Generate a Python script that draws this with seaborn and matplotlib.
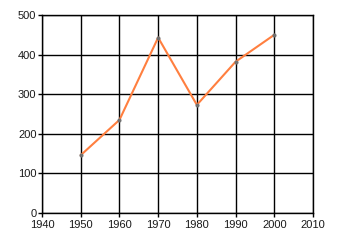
import matplotlib
matplotlib.use("Agg")
import matplotlib.pyplot as plt
import seaborn as sns
import pandas as pd

years = [1950, 1960, 1970, 1980, 1990, 2000]
values = [146, 235, 443, 273, 382, 450]
x_ticks = [1940, 1950, 1960, 1970, 1980, 1990, 2000, 2010]
y_ticks = [0, 100, 200, 300, 400, 500]

sns.set_style("white")
plt.rcParams['font.family'] = ['Liberation Sans', 'DejaVu Sans']

df = pd.DataFrame({"year": years, "value": values})

fig = plt.figure(figsize=(3.4, 2.45), dpi=100)
ax = fig.add_axes([42/340, 32/245, 271/340, 198/245])
sns.lineplot(data=df, x="year", y="value", ax=ax, color="#FF7F3F", linewidth=1.5,
             marker="o", markersize=2.2, markerfacecolor="#707070", markeredgecolor="#707070")
ax.set_xlim(1940, 2010)
ax.set_ylim(0, 500)
ax.set_xticks(x_ticks)
ax.set_yticks(y_ticks)
ax.set_xlabel("")
ax.set_ylabel("")
ax.grid(True, color="black", linewidth=1)
ax.set_axisbelow(True)
for s in ax.spines.values():
    s.set_color("black")
    s.set_linewidth(1)
ax.tick_params(axis="both", which="both", direction="out", length=3, width=1,
               color="black", labelsize=8, labelcolor="#1a1a1a",
               left=True, bottom=True)
ax.tick_params(axis="y", pad=1)
ax.tick_params(axis="x", pad=2)
fig.savefig("out.png", dpi=100)
